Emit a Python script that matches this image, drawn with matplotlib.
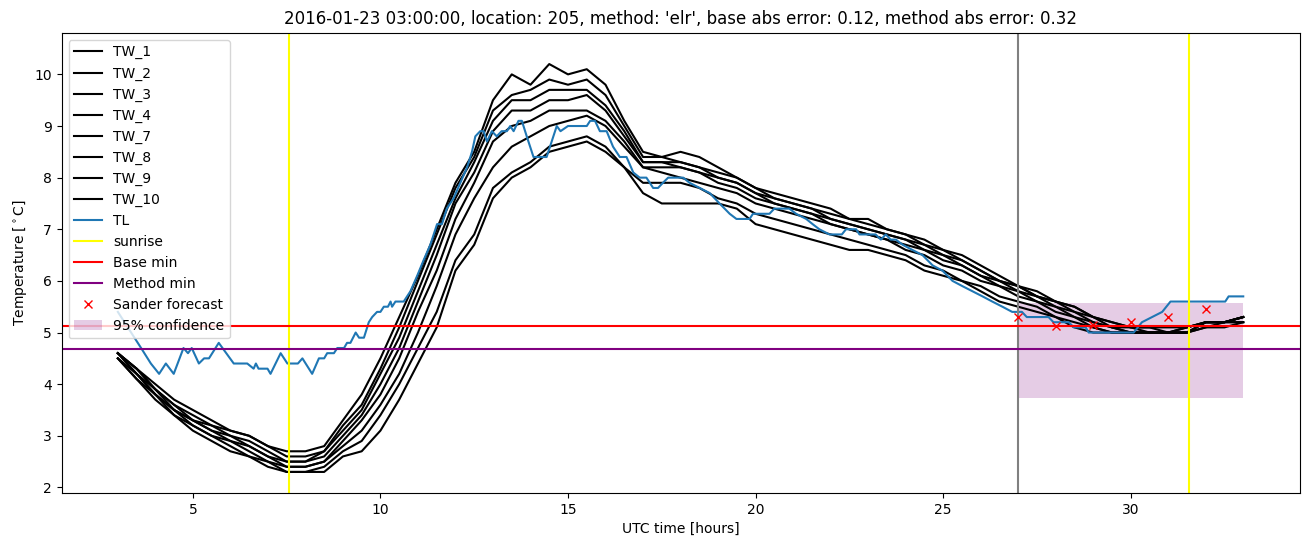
import matplotlib
matplotlib.use("Agg")
import matplotlib.pyplot as plt
import numpy as np

# horas (UTC) de las series TW, cada media hora
tw_hours = np.arange(3.0, 33.01, 0.5)

tw_1 = [4.6, 4.3, 4.0, 3.7, 3.5, 3.3, 3.1, 3.0, 2.8, 2.7, 2.7, 2.8, 3.3, 3.8, 4.5, 5.3, 6.1, 7.0, 7.9, 8.5,
        9.5, 10.0, 9.8, 10.2, 10.0, 10.1, 9.8, 9.1, 8.5, 8.4, 8.5, 8.4, 8.2, 8.0, 7.8, 7.7, 7.6, 7.5, 7.4, 7.2,
        7.2, 7.0, 6.9, 6.8, 6.6, 6.5, 6.3, 6.1, 5.9, 5.8, 5.6, 5.5, 5.3, 5.2, 5.1, 5.1, 5.1, 5.1, 5.2, 5.2, 5.3]
tw_2 = [4.6, 4.3, 3.9, 3.6, 3.3, 3.2, 3.0, 2.9, 2.7, 2.5, 2.5, 2.7, 3.1, 3.5, 4.2, 4.9, 5.8, 6.7, 7.6, 8.3,
        9.1, 9.5, 9.5, 9.7, 9.7, 9.7, 9.4, 8.9, 8.3, 8.3, 8.3, 8.2, 8.0, 7.9, 7.7, 7.6, 7.5, 7.4, 7.2, 7.1,
        7.0, 6.9, 6.8, 6.7, 6.5, 6.4, 6.2, 6.0, 5.9, 5.7, 5.6, 5.4, 5.3, 5.1, 5.1, 5.0, 5.0, 5.1, 5.2, 5.2, 5.3]
tw_3 = [4.5, 4.1, 3.7, 3.4, 3.1, 2.9, 2.7, 2.6, 2.4, 2.3, 2.3, 2.3, 2.6, 2.7, 3.1, 3.7, 4.4, 5.1, 6.2, 6.7,
        7.6, 8.0, 8.2, 8.5, 8.6, 8.7, 8.5, 8.2, 7.7, 7.5, 7.5, 7.5, 7.5, 7.4, 7.1, 7.0, 6.9, 6.8, 6.7, 6.6,
        6.6, 6.5, 6.4, 6.2, 6.1, 6.0, 5.8, 5.6, 5.5, 5.4, 5.3, 5.1, 5.0, 5.0, 5.0, 5.0, 5.0, 5.0, 5.1, 5.1, 5.2]
tw_4 = [4.6, 4.3, 3.9, 3.6, 3.4, 3.2, 3.1, 3.0, 2.8, 2.6, 2.6, 2.7, 3.2, 3.6, 4.3, 5.1, 6.0, 6.9, 7.8, 8.4,
        9.3, 9.6, 9.7, 9.9, 9.8, 9.9, 9.6, 9.0, 8.4, 8.4, 8.3, 8.2, 8.1, 8.0, 7.8, 7.6, 7.5, 7.4, 7.3, 7.2,
        7.1, 7.0, 6.9, 6.7, 6.6, 6.4, 6.2, 6.0, 5.9, 5.7, 5.6, 5.5, 5.3, 5.2, 5.1, 5.1, 5.0, 5.1, 5.2, 5.2, 5.3]
tw_7 = [4.6, 4.2, 3.8, 3.5, 3.3, 3.1, 2.9, 2.8, 2.6, 2.4, 2.4, 2.5, 2.9, 3.3, 3.8, 4.5, 5.4, 6.2, 7.2, 7.9,
        8.7, 9.0, 9.1, 9.3, 9.3, 9.3, 9.1, 8.7, 8.2, 8.2, 8.2, 8.1, 7.9, 7.8, 7.6, 7.5, 7.4, 7.3, 7.1, 7.0,
        6.9, 6.8, 6.7, 6.6, 6.4, 6.3, 6.1, 5.9, 5.8, 5.6, 5.5, 5.3, 5.2, 5.1, 5.0, 5.0, 5.0, 5.0, 5.2, 5.2, 5.3]
tw_8 = [4.5, 4.1, 3.8, 3.4, 3.2, 3.0, 2.8, 2.6, 2.5, 2.3, 2.3, 2.4, 2.7, 2.9, 3.4, 4.0, 4.7, 5.4, 6.4, 6.9,
        7.8, 8.1, 8.3, 8.6, 8.7, 8.8, 8.6, 8.2, 7.9, 7.9, 7.9, 7.8, 7.6, 7.5, 7.3, 7.2, 7.1, 7.0, 6.9, 6.8,
        6.7, 6.6, 6.5, 6.3, 6.2, 6.0, 5.9, 5.7, 5.6, 5.5, 5.3, 5.2, 5.1, 5.0, 5.0, 5.0, 5.0, 5.0, 5.1, 5.2, 5.2]
tw_9 = [4.6, 4.2, 3.9, 3.5, 3.3, 3.1, 3.0, 2.8, 2.6, 2.5, 2.5, 2.6, 3.0, 3.4, 4.0, 4.7, 5.6, 6.5, 7.5, 8.1,
        8.9, 9.3, 9.3, 9.5, 9.5, 9.6, 9.3, 8.8, 8.3, 8.3, 8.2, 8.1, 8.0, 7.9, 7.7, 7.5, 7.4, 7.3, 7.2, 7.1,
        7.0, 6.9, 6.8, 6.6, 6.5, 6.3, 6.1, 6.0, 5.8, 5.7, 5.5, 5.4, 5.2, 5.1, 5.0, 5.0, 5.0, 5.0, 5.2, 5.2, 5.3]
tw_10 = [4.5, 4.2, 3.8, 3.5, 3.2, 3.0, 2.9, 2.7, 2.5, 2.4, 2.4, 2.5, 2.8, 3.1, 3.6, 4.2, 5.0, 5.9, 6.9, 7.6,
         8.2, 8.6, 8.8, 9.0, 9.1, 9.2, 9.0, 8.6, 8.2, 8.1, 8.0, 7.9, 7.8, 7.7, 7.5, 7.4, 7.3, 7.2, 7.1, 7.0,
         6.9, 6.8, 6.6, 6.5, 6.3, 6.2, 6.0, 5.9, 5.7, 5.6, 5.4, 5.3, 5.1, 5.0, 5.0, 5.0, 5.0, 5.0, 5.2, 5.2, 5.2]

tw_names = ["TW_1", "TW_2", "TW_3", "TW_4", "TW_7", "TW_8", "TW_9", "TW_10"]
tw_series = [tw_1, tw_2, tw_3, tw_4, tw_7, tw_8, tw_9, tw_10]

# serie TL (horas, temperatura)
tl_hours = [3.0, 3.62, 3.88, 4.1, 4.28, 4.49, 4.75, 4.87, 4.97, 5.16, 5.3, 5.43, 5.69, 6.09, 6.45, 6.62,
            6.68, 6.75, 6.99, 7.07, 7.34, 7.52, 7.8, 7.92, 8.18, 8.36, 8.5, 8.58, 8.76, 8.85, 9.03, 9.11,
            9.2, 9.34, 9.43, 9.56, 9.69, 9.78, 9.91, 10.0, 10.09, 10.2, 10.27, 10.31, 10.4, 10.62, 10.8,
            10.98, 11.15, 11.33, 11.51, 11.64, 11.77, 11.95, 12.13, 12.31, 12.44, 12.53, 12.66, 12.75,
            12.84, 12.97, 13.1, 13.23, 13.37, 13.46, 13.55, 13.68, 13.77, 13.9, 14.08, 14.43, 14.7, 14.8,
            15.0, 15.5, 15.59, 15.72, 15.85, 16.03, 16.2, 16.38, 16.56, 16.74, 16.91, 17.09, 17.27, 17.4,
            17.53, 17.67, 18.07, 18.24, 18.51, 18.78, 19.04, 19.31, 19.49, 19.84, 19.93, 20.37, 20.5,
            20.9, 21.08, 21.35, 21.52, 21.7, 21.97, 22.3, 22.41, 22.68, 22.77, 23.2, 23.34, 23.47, 23.6,
            23.74, 23.92, 24.18, 24.45, 24.72, 24.98, 25.25, 25.51, 25.78, 26.05, 26.31, 26.58, 26.84,
            27.1, 27.23, 27.81, 27.94, 28.35, 28.48, 28.8, 28.88, 30.08, 30.3, 30.57, 30.84, 31.06,
            32.52, 32.61, 33.0]
tl_values = [5.4, 4.7, 4.4, 4.2, 4.4, 4.2, 4.7, 4.6, 4.7, 4.4, 4.5, 4.5, 4.8, 4.4, 4.4, 4.3,
             4.4, 4.3, 4.3, 4.2, 4.6, 4.4, 4.4, 4.5, 4.2, 4.5, 4.5, 4.6, 4.6, 4.7, 4.7, 4.8,
             4.8, 5.0, 4.9, 4.9, 5.2, 5.3, 5.4, 5.4, 5.5, 5.5, 5.6, 5.5, 5.6, 5.6, 5.8,
             6.1, 6.4, 6.7, 7.1, 7.1, 7.4, 7.6, 7.9, 8.2, 8.5, 8.8, 8.9, 8.9,
             8.7, 8.9, 8.8, 8.9, 8.9, 9.0, 8.9, 9.1, 9.1, 8.8, 8.4, 8.4, 9.0, 8.9,
             9.0, 9.0, 9.1, 9.1, 8.9, 8.9, 8.6, 8.4, 8.4, 8.1, 8.0, 8.0, 7.8, 7.8,
             7.9, 8.0, 8.0, 7.9, 7.8, 7.7, 7.5, 7.3, 7.2, 7.2, 7.3, 7.3, 7.4,
             7.4, 7.3, 7.2, 7.1, 7.0, 6.9, 6.9, 7.0, 7.0, 6.9, 6.9, 6.8, 6.9, 6.8,
             6.8, 6.7, 6.6, 6.5, 6.3, 6.2, 6.0, 5.9, 5.8, 5.7, 5.6, 5.5, 5.4,
             5.4, 5.3, 5.3, 5.2, 5.2, 5.1, 5.1, 5.0, 5.0, 5.2, 5.3, 5.4, 5.6,
             5.6, 5.7, 5.7]

# previsión de Sander y líneas de referencia
sander_hours = [27, 28, 29, 30, 31, 32]
sander_values = [5.30, 5.12, 5.14, 5.21, 5.30, 5.45]
sunrise_hours = [7.55, 31.55]
forecast_start = 27.0
base_min = 5.12
method_min = 4.68
conf_hours = [27.0, 33.0]
conf_low = 3.73
conf_high = 5.58

fig = plt.figure(figsize=(13.1, 5.47), dpi=100)
ax = plt.gca()
plt.subplots_adjust(left=0.047, right=0.992, top=0.94, bottom=0.099)

for name, vals in zip(tw_names, tw_series):
    ax.plot(tw_hours, vals, color="black", label=name)
ax.plot(tl_hours, tl_values, color="C0", label="TL")

ax.axvline(sunrise_hours[0], color="yellow", label="sunrise")
ax.axvline(sunrise_hours[1], color="yellow")
ax.axvline(forecast_start, color="gray")
ax.axhline(base_min, color="red", label="Base min")
ax.axhline(method_min, color="purple", label="Method min")
ax.plot(sander_hours, sander_values, "rx", label="Sander forecast")
ax.fill_between(conf_hours, conf_low, conf_high, color="purple", alpha=0.2,
                linewidth=0, label="95% confidence")

ax.set_xlim(1.5, 34.5)
ax.set_ylim(1.895, 10.805)
ax.set_xlabel("UTC time [hours]")
ax.set_ylabel(r"Temperature [$^\circ$C]")
ax.set_title("2016-01-23 03:00:00, location: 205, method: 'elr', base abs error: 0.12, method abs error: 0.32")
ax.legend(loc="upper left")

plt.savefig("out.png", dpi=100)
